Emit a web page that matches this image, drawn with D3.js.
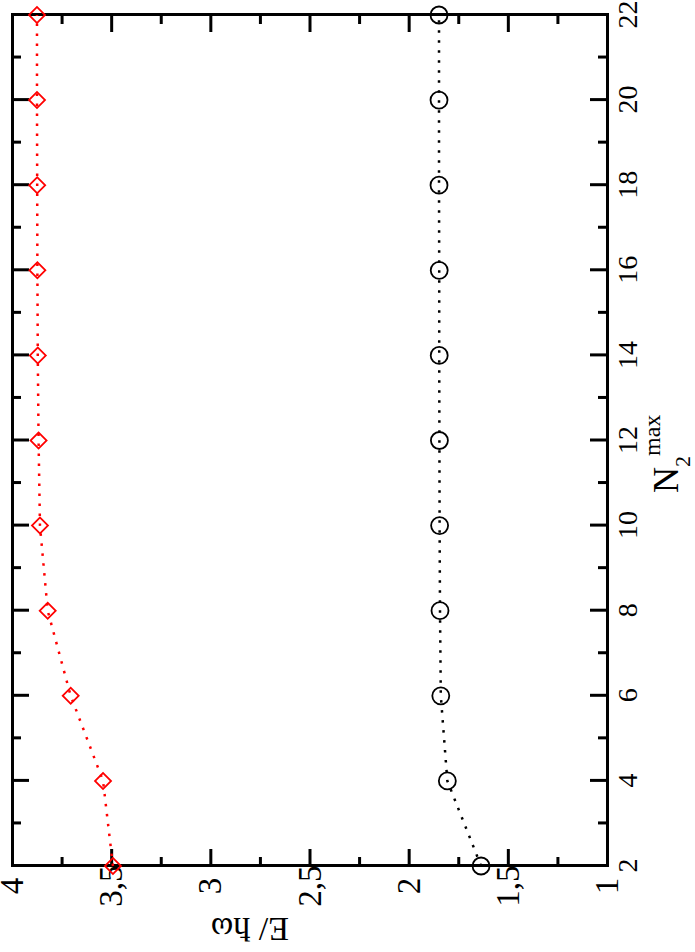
<!DOCTYPE html>
<html>
<head>
<meta charset="utf-8">
<script src="https://cdn.jsdelivr.net/npm/d3@7"></script>
<style>
  html, body { margin: 0; padding: 0; background: #fff; }
  svg { display: block; }
  text { font-family: "Liberation Serif", "Times New Roman", serif; }
</style>
</head>
<body>
<script>
// ---- data ----
const nValues = [2, 4, 6, 8, 10, 12, 14, 16, 18, 20, 22];
const redSeries = [3.491, 3.541, 3.704, 3.820, 3.859, 3.866, 3.870, 3.872, 3.873, 3.874, 3.874];
const blackSeries = [1.635, 1.805, 1.838, 1.842, 1.844, 1.845, 1.846, 1.846, 1.847, 1.847, 1.847];
const nMajorTicks = [2, 4, 6, 8, 10, 12, 14, 16, 18, 20, 22];
const nMinorTicks = [3, 5, 7, 9, 11, 13, 15, 17, 19, 21];
const eMajorTicks = [1, 1.5, 2, 2.5, 3, 3.5, 4];
const eMinorTicks = [1.25, 1.75, 2.25, 2.75, 3.25, 3.75];
const eTickLabels = ["1", "1,5", "2", "2,5", "3", "3,5", "4"];

// ---- layout (original chart is drawn then rotated 90° CCW) ----
const W = 695, H = 952;
const plotW = 851;   // along N axis (screen vertical)
const plotH = 595;   // along E axis (screen horizontal)

const svg = d3.select("body").append("svg").attr("width", W).attr("height", H);
const g = svg.append("g").attr("transform", "translate(12,866) rotate(-90)");

const x = d3.scaleLinear().domain([2, 22]).range([0, plotW]);
const y = d3.scaleLinear().domain([1, 4]).range([plotH, 0]);

const major = 17, minor = 9;

function styleAxis(sel) {
  sel.select(".domain").attr("stroke", "#000").attr("stroke-width", 3).attr("stroke-linecap", "square");
  sel.selectAll(".tick line").attr("stroke", "#000").attr("stroke-width", 3);
}

// bottom (N) axis with labels
const gb = g.append("g").attr("transform", `translate(0,${plotH})`)
  .call(d3.axisBottom(x).tickValues(nMajorTicks).tickSize(-major).tickSizeOuter(0).tickPadding(10).tickFormat(d3.format("d")));
styleAxis(gb);
gb.selectAll(".tick text").attr("font-size", 28).attr("fill", "#000");
g.append("g").attr("transform", `translate(0,${plotH})`)
  .call(d3.axisBottom(x).tickValues(nMinorTicks).tickSize(-minor).tickSizeOuter(0).tickFormat(""))
  .call(styleAxis);

// top axis (mirror)
g.append("g").call(d3.axisTop(x).tickValues(nMajorTicks).tickSize(-major).tickSizeOuter(0).tickFormat("")).call(styleAxis);
g.append("g").call(d3.axisTop(x).tickValues(nMinorTicks).tickSize(-minor).tickSizeOuter(0).tickFormat("")).call(styleAxis);

// left (E) axis with labels
const gl = g.append("g")
  .call(d3.axisLeft(y).tickValues(eMajorTicks).tickSize(-major).tickSizeOuter(0).tickPadding(20)
    .tickFormat((d, i) => eTickLabels[i]));
styleAxis(gl);
gl.selectAll(".tick text").attr("font-size", 33).attr("fill", "#000").attr("text-anchor", "middle")
  .attr("x", -20);
g.append("g").call(d3.axisLeft(y).tickValues(eMinorTicks).tickSize(-minor).tickSizeOuter(0).tickFormat("")).call(styleAxis);

// right axis (mirror)
g.append("g").attr("transform", `translate(${plotW},0)`)
  .call(d3.axisRight(y).tickValues(eMajorTicks).tickSize(-major).tickSizeOuter(0).tickFormat("")).call(styleAxis);
g.append("g").attr("transform", `translate(${plotW},0)`)
  .call(d3.axisRight(y).tickValues(eMinorTicks).tickSize(-minor).tickSizeOuter(0).tickFormat("")).call(styleAxis);

// series
const line = d3.line().x(d => x(d[0])).y(d => y(d[1]));
const redData = nValues.map((n, i) => [n, redSeries[i]]);
const blackData = nValues.map((n, i) => [n, blackSeries[i]]);

g.append("path").datum(redData).attr("d", line).attr("fill", "none")
  .attr("stroke", "#ff0000").attr("stroke-width", 2.5).attr("stroke-dasharray", "2.5,7.5");
g.append("path").datum(blackData).attr("d", line).attr("fill", "none")
  .attr("stroke", "#000").attr("stroke-width", 2.5).attr("stroke-dasharray", "2.5,7.5");

const diamond = d3.symbol().type(d3.symbolSquare).size(128);
g.selectAll(".dia").data(redData).join("path").attr("class", "dia")
  .attr("d", diamond)
  .attr("transform", d => `translate(${x(d[0])},${y(d[1])}) rotate(45)`)
  .attr("fill", "none").attr("stroke", "#ff0000").attr("stroke-width", 1.8);

g.selectAll(".circ").data(blackData).join("circle").attr("class", "circ")
  .attr("cx", d => x(d[0])).attr("cy", d => y(d[1])).attr("r", 8.5)
  .attr("fill", "none").attr("stroke", "#000").attr("stroke-width", 1.8);

// axis titles
const xt = g.append("text").attr("x", 373).attr("y", 666).attr("fill", "#000");
xt.append("tspan").attr("font-size", 36).text("N");
xt.append("tspan").attr("font-size", 22).attr("dy", 12).text("2");
xt.append("tspan").attr("font-size", 24).attr("dy", -30).text("max");

g.append("text").attr("transform", "translate(-52,238) rotate(-90)")
  .attr("text-anchor", "middle").attr("font-size", 34).attr("fill", "#000")
  .text("E/ ħω");
</script>
</body>
</html>
